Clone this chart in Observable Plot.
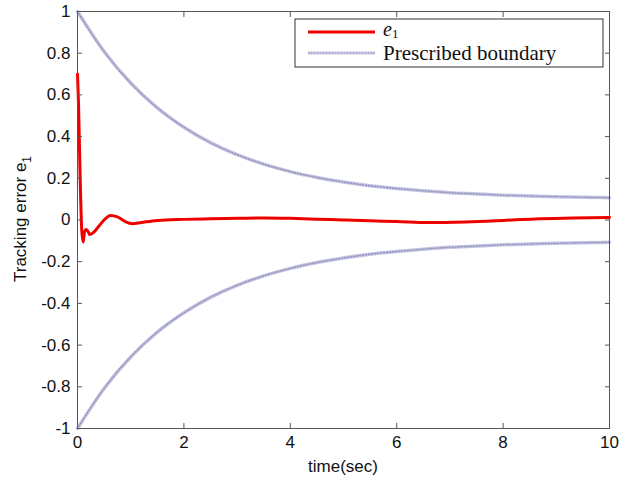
<!DOCTYPE html>
<html>
<head>
<meta charset="utf-8">
<script src="https://cdn.jsdelivr.net/npm/d3@7"></script>
<script src="https://cdn.jsdelivr.net/npm/@observablehq/plot@0.6"></script>
<style>
  html, body { margin: 0; padding: 0; background: #fff; }
  #chart { position: relative; width: 637px; height: 477px; }
</style>
</head>
<body>
<div id="chart"></div>
<script>
// ---- data ----
const boundT = [0, 0.5, 1, 1.5, 2, 2.5, 3, 3.5, 4, 4.5, 5, 5.5, 6, 6.5, 7, 7.5, 8, 8.5, 9, 9.5, 10];
const boundUpper = [1.0, 0.808, 0.657, 0.538, 0.445, 0.371, 0.313, 0.268, 0.232, 0.204, 0.182, 0.164, 0.151, 0.140, 0.131, 0.125, 0.119, 0.115, 0.112, 0.109, 0.107];
const boundLower = [-1.0, -0.808, -0.657, -0.538, -0.445, -0.371, -0.313, -0.268, -0.232, -0.204, -0.182, -0.164, -0.151, -0.140, -0.131, -0.125, -0.119, -0.115, -0.112, -0.109, -0.107];

const errT = [0, 0.02, 0.05, 0.08, 0.107, 0.13, 0.16, 0.2, 0.23, 0.3, 0.4, 0.5, 0.62, 0.75, 0.9, 1.03, 1.2, 1.5, 2, 2.5, 3, 3.5, 4, 4.5, 5, 5.5, 6, 6.6, 7.3, 8, 8.6, 9.3, 10];
const errE1 = [0.70, 0.55, 0.20, -0.05, -0.106, -0.06, -0.045, -0.055, -0.07, -0.06, -0.03, 0.0, 0.022, 0.015, -0.008, -0.018, -0.012, -0.002, 0.003, 0.006, 0.008, 0.010, 0.008, 0.004, 0.0, -0.004, -0.007, -0.012, -0.009, -0.002, 0.005, 0.009, 0.012];

const xTicks = [0, 2, 4, 6, 8, 10];
const yTicks = [-1, -0.8, -0.6, -0.4, -0.2, 0, 0.2, 0.4, 0.6, 0.8, 1];
const xLabel = "time(sec)";
const yLabelMain = "Tracking error e";
const yLabelSub = "1";
const legendNames = ["e", "Prescribed boundary"];

// ---- tables ----
const upper = boundT.map((t, i) => ({t, v: boundUpper[i]}));
const lower = boundT.map((t, i) => ({t, v: boundLower[i]}));
const err = errT.map((t, i) => ({t, v: errE1[i]}));

const fmt = d => String(d);
const boundColor = "#c6c6e2";
const dotColor = "#6e6ea6";
const boundBase = {x: "t", y: "v", stroke: boundColor, strokeWidth: 3.5, curve: "monotone-x"};
const boundDots = {x: "t", y: "v", stroke: dotColor, strokeWidth: 1.6, strokeDasharray: "0.8 2.2", strokeOpacity: 0.55, curve: "monotone-x"};

const plot = Plot.plot({
  width: 637,
  height: 477,
  marginLeft: 77,
  marginRight: 28,
  marginTop: 11,
  marginBottom: 49,
  style: {fontFamily: "'Liberation Sans', Arial, sans-serif", fontSize: "17px", background: "#fff", color: "#111"},
  x: {domain: [0, 10]},
  y: {domain: [-1, 1]},
  marks: [
    Plot.line(upper, boundBase),
    Plot.line(upper, boundDots),
    Plot.line(lower, boundBase),
    Plot.line(lower, boundDots),
    Plot.line(err, {x: "t", y: "v", stroke: "#ee0000", strokeWidth: 3, curve: "monotone-x"}),
    Plot.frame({stroke: "#555"}),
    Plot.axisX({ticks: xTicks, tickSize: -5, tickPadding: 12, tickFormat: fmt, stroke: "#555", label: null}),
    Plot.axisX({anchor: "top", ticks: xTicks, tickSize: -5, tickFormat: () => "", stroke: "#555", label: null}),
    Plot.axisY({ticks: yTicks, tickSize: -5, tickPadding: 12, tickFormat: fmt, stroke: "#555", label: null}),
    Plot.axisY({anchor: "right", ticks: yTicks, tickSize: -5, tickFormat: () => "", stroke: "#555", label: null})
  ]
});

document.getElementById("chart").appendChild(plot);

const svg = d3.select(plot);
const sans = "'Liberation Sans', Arial, sans-serif";
const serif = "'Liberation Serif', 'DejaVu Serif', serif";

// x-axis label
svg.append("text")
  .attr("x", 343).attr("y", 472)
  .attr("text-anchor", "middle")
  .attr("font-family", sans).attr("font-size", 17).attr("fill", "#111")
  .text(xLabel);

// y-axis label with subscript
const yl = svg.append("text")
  .attr("transform", "translate(26,219) rotate(-90)")
  .attr("text-anchor", "middle")
  .attr("font-family", sans).attr("font-size", 17).attr("fill", "#111");
yl.append("tspan").text(yLabelMain);
yl.append("tspan").attr("font-size", 12).attr("dy", 5).text(yLabelSub);

// legend
const lg = svg.append("g").attr("transform", "translate(295,19)");
lg.append("rect").attr("width", 308).attr("height", 48).attr("fill", "#fff").attr("stroke", "#333").attr("stroke-width", 1);
lg.append("line").attr("x1", 13).attr("x2", 80).attr("y1", 13).attr("y2", 13).attr("stroke", "#ee0000").attr("stroke-width", 3);
lg.append("line").attr("x1", 13).attr("x2", 80).attr("y1", 34).attr("y2", 34).attr("stroke", boundColor).attr("stroke-width", 3);
lg.append("line").attr("x1", 13).attr("x2", 80).attr("y1", 34).attr("y2", 34).attr("stroke", dotColor).attr("stroke-width", 1.6).attr("stroke-dasharray", "0.8 2.2").attr("stroke-opacity", 0.55);
const t1 = lg.append("text").attr("x", 88).attr("y", 17).attr("text-anchor", "start")
  .attr("font-family", serif).attr("font-size", 20).attr("fill", "#111");
t1.append("tspan").attr("font-style", "italic").text(legendNames[0]);
t1.append("tspan").attr("font-size", 13).attr("dy", 2).text("1");
lg.append("text").attr("x", 88).attr("y", 41).attr("text-anchor", "start")
  .attr("font-family", serif).attr("font-size", 21).attr("fill", "#111")
  .text(legendNames[1]);
</script>
</body>
</html>
